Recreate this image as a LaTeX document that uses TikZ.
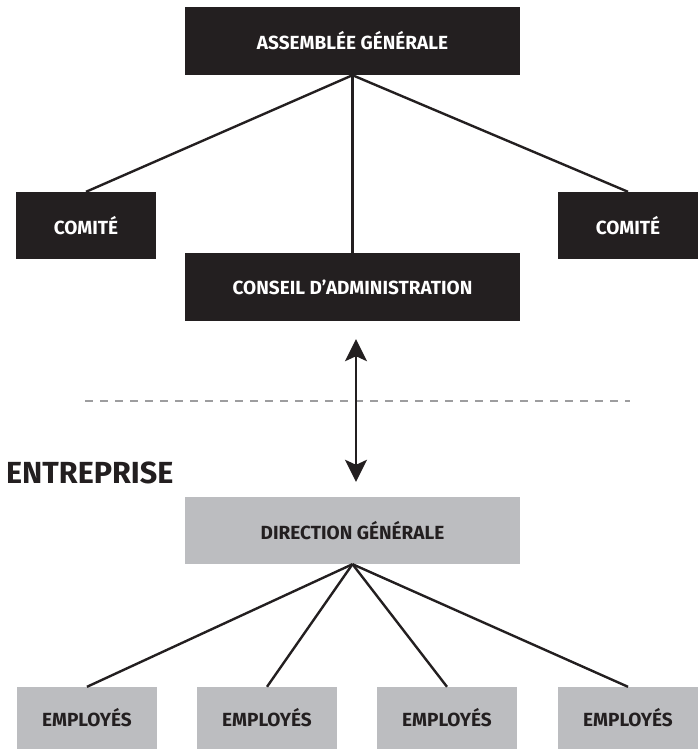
\documentclass[tikz,border=0pt]{standalone}
\usepackage{fontspec}
\setmainfont{Fira Sans}
\usetikzlibrary{arrows.meta}
\definecolor{ink}{HTML}{231F20}
\definecolor{boxgray}{HTML}{BCBDC0}
\definecolor{dashgray}{HTML}{9D9D9F}
\tikzset{
  blackbox/.style={fill=ink, text=white, inner sep=0pt, minimum height=68pt, font=\bfseries\fontsize{19}{19}\selectfont},
  graybox/.style={fill=boxgray, text=ink, inner sep=0pt, font=\bfseries\fontsize{19}{19}\selectfont},
  link/.style={draw=ink, line width=2.4pt},
}
\begin{document}
\begin{tikzpicture}[x=1pt,y=-1pt]
\useasboundingbox (0,0) rectangle (699,749);
\node[blackbox, minimum width=335pt] (ag) at (352.5,41) {ASSEMBLÉE GÉNÉRALE};
\node[blackbox, minimum width=140pt, minimum height=67pt] (c1) at (86,225.5) {COMITÉ};
\node[blackbox, minimum width=140pt, minimum height=67pt] (c2) at (628,225.5) {COMITÉ};
\node[blackbox, minimum width=335pt] (ca) at (352.5,287) {CONSEIL D’ADMINISTRATION};
\node[graybox, minimum width=335pt, minimum height=67pt] (dg) at (352.5,530.5) {DIRECTION GÉNÉRALE};
\node[graybox, minimum width=140pt, minimum height=62pt] (e1) at (87,718) {EMPLOYÉS};
\node[graybox, minimum width=140pt, minimum height=62pt] (e2) at (267,718) {EMPLOYÉS};
\node[graybox, minimum width=140pt, minimum height=62pt] (e3) at (447,718) {EMPLOYÉS};
\node[graybox, minimum width=140pt, minimum height=62pt] (e4) at (628,718) {EMPLOYÉS};
\node[anchor=base west, inner sep=0pt, text=ink, font=\bfseries\fontsize{30.5}{30.5}\selectfont] (ent) at (6,483) {ENTREPRISE};
\coordinate (dl) at (85,401);
\coordinate (dr) at (630,401);
\draw[dashgray, line width=2.2pt, dash pattern=on 8pt off 7pt] (dl) -- (dr);
\draw[link] (ag.south) -- (c1.north);
\draw[link] (ag.south) -- (c2.north);
\draw[link] (ag.south) -- (ca.north);
\draw[link] (dg.south) -- (e1.north);
\draw[link] (dg.south) -- (e2.north);
\draw[link] (dg.south) -- (e3.north);
\draw[link] (dg.south) -- (e4.north);
\draw[draw=ink, line width=2.4pt, {Stealth[length=22pt,width=22pt,inset=5pt]}-{Stealth[length=22pt,width=22pt,inset=5pt]}, shorten <=18pt, shorten >=15pt] ([xshift=3.5pt]ca.south) -- ([xshift=3.5pt]dg.north);
\end{tikzpicture}
\end{document}
